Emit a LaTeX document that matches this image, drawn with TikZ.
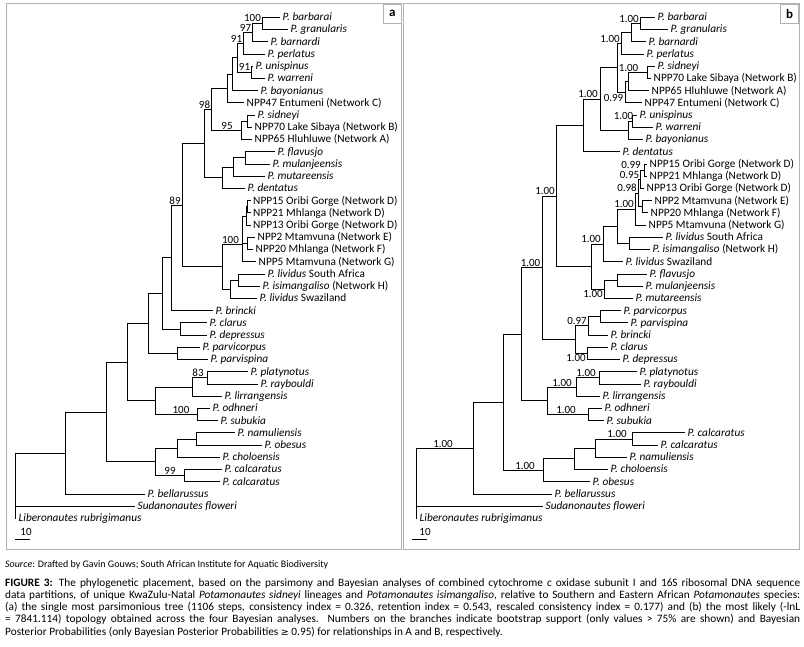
\documentclass[tikz,border=0pt]{standalone}
\usepackage{fontspec}
\setmainfont{Carlito}
\newfontfamily\symfont{DejaVu Sans}
\newcommand{\tipl}[4]{\node[tiplab] (#1) at (#2,#3) {#4};}
\newcommand{\ndc}[3]{\coordinate (#1) at (#2,#3);}
\newcommand{\brn}[2]{\draw[branch] (#1) |- (#2);}
\newcommand{\brt}[2]{\draw[branch] (#1) |- (#2.west);}
\newcommand{\supl}[4]{\node[suplab] (#1) at (#2,#3) {#4};}
\newcommand{\spp}[1]{\textit{P. #1}}
\tikzset{
 branch/.style={line width=0.75pt, black},
 tiplab/.style={anchor=west, inner xsep=2.5pt, inner ysep=0pt, text height=8.5pt, text depth=1.6pt, font=\fontsize{11.3}{12}\selectfont},
 suplab/.style={inner sep=0pt, text height=7.5pt, text depth=0.5pt, font=\fontsize{11}{12}\selectfont},
 frame/.style={draw=gray!60, line width=1pt},
 panlab/.style={draw=gray!60, line width=0.8pt, minimum width=18.5pt, minimum height=19pt, inner sep=0pt, font=\fontsize{13}{14}\selectfont\bfseries},
 caplab/.style={anchor=west, inner sep=0pt, text height=8pt, text depth=2.2pt, font=\fontsize{11.3}{12}\selectfont},
}
\begin{document}
\begin{tikzpicture}[x=1pt,y=-1pt]
\useasboundingbox (0,0) rectangle (804,647);
\fill[white] (0,0) rectangle (804,647);
% frames
\draw[frame] (6,3.5) rectangle (401.5,549);
\draw[frame] (403.5,3.5) rectangle (799,549);
\node[panlab] (pa) at (392.25,13.5) {a};
\node[panlab] (pb) at (789.5,13.5) {b};
% ================= panel a tips
\tipl{a1}{280}{17.3}{\spp{barbarai}}
\tipl{a2}{288}{29.52}{\spp{granularis}}
\tipl{a3}{268}{41.74}{\spp{barnardi}}
\tipl{a4}{265}{53.96}{\spp{perlatus}}
\tipl{a5}{253}{66.18}{\spp{unispinus}}
\tipl{a6}{265}{78.4}{\spp{warreni}}
\tipl{a7}{258}{90.62}{\spp{bayonianus}}
\tipl{a8}{244}{102.84}{NPP47 Entumeni (Network C)}
\tipl{a9}{255}{115.06}{\spp{sidneyi}}
\tipl{a10}{252}{127.28}{NPP70 Lake Sibaya (Network B)}
\tipl{a11}{252}{139.5}{NPP65 Hluhluwe (Network A)}
\tipl{a12}{275}{151.72}{\spp{flavusjo}}
\tipl{a13}{270}{163.94}{\spp{mulanjeensis}}
\tipl{a14}{265}{176.16}{\spp{mutareensis}}
\tipl{a15}{245}{188.38}{\spp{dentatus}}
\tipl{a16}{250.5}{200.6}{NPP15 Oribi Gorge (Network D)}
\tipl{a17}{250.5}{212.82}{NPP21 Mhlanga (Network D)}
\tipl{a18}{250.5}{225.04}{NPP13 Oribi Gorge (Network D)}
\tipl{a19}{255}{237.26}{NPP2 Mtamvuna (Network E)}
\tipl{a20}{253}{249.48}{NPP20 Mhlanga (Network F)}
\tipl{a21}{256}{261.7}{NPP5 Mtamvuna (Network G)}
\tipl{a22}{265}{273.92}{\spp{lividus} South Africa}
\tipl{a23}{260}{286.14}{\spp{isimangaliso} (Network H)}
\tipl{a24}{257}{298.36}{\spp{lividus} Swaziland}
\tipl{a25}{213}{310.58}{\spp{brincki}}
\tipl{a26}{207}{322.8}{\spp{clarus}}
\tipl{a27}{207}{335.02}{\spp{depressus}}
\tipl{a28}{200}{347.24}{\spp{parvicorpus}}
\tipl{a29}{208}{359.46}{\spp{parvispina}}
\tipl{a30}{248}{371.68}{\spp{platynotus}}
\tipl{a31}{258}{383.9}{\spp{raybouldi}}
\tipl{a32}{222}{396.12}{\spp{lirrangensis}}
\tipl{a33}{210}{408.34}{\spp{odhneri}}
\tipl{a34}{218}{420.56}{\spp{subukia}}
\tipl{a35}{235}{432.78}{\spp{namuliensis}}
\tipl{a36}{262}{445}{\spp{obesus}}
\tipl{a37}{220}{457.22}{\spp{choloensis}}
\tipl{a38}{222}{469.44}{\spp{calcaratus}}
\tipl{a39}{220}{481.66}{\spp{calcaratus}}
\tipl{a40}{145}{493.88}{\spp{bellarussus}}
\tipl{a41}{135}{506.1}{\textit{Sudanonautes floweri}}
\tipl{a42}{16}{518.32}{\textit{Liberonautes rubrigimanus}}
% panel a internal nodes
\ndc{ar}{15}{485}
\ndc{aI}{65}{452.9}
\ndc{aA}{106}{411.9}
\ndc{aB}{127}{362.03}
\ndc{aD}{148}{323.36}
\ndc{a162}{162}{293.37}
\ndc{a171}{171}{257.83}
\ndc{a182}{182}{205.08}
\ndc{a204}{204}{143.56}
\ndc{a211}{211}{109.43}
\ndc{a227}{227.5}{88.52}
\ndc{a232}{232.5}{74.2}
\ndc{a237}{237.5}{57.78}
\ndc{a243}{243}{43.27}
\ndc{a252}{252}{32.58}
\ndc{a262}{262}{23.41}
\ndc{a251}{251}{72.29}
\ndc{a242}{241}{130.34}
\ndc{a247}{247.5}{121.17}
\ndc{a222}{222}{177.69}
\ndc{a233}{233}{167}
\ndc{a244}{245}{157.83}
\ndc{a222b}{222.5}{266.6}
\ndc{aN}{242}{244}
\ndc{aN1}{246}{215.88}
\ndc{aN2}{247.5}{206.71}
\ndc{aN3}{247}{243.37}
\ndc{aL2}{230}{289.2}
\ndc{aL1}{238}{280.03}
\ndc{a180}{180}{328.91}
\ndc{a177}{177}{353.35}
\ndc{aE}{155}{400.7}
\ndc{a192}{192}{386.96}
\ndc{a207}{207}{377.79}
\ndc{a197}{197}{414.45}
\ndc{aC}{155.5}{461.8}
\ndc{a178}{177}{448.06}
\ndc{a196}{196.5}{438.89}
\ndc{a184}{184}{475.55}
% panel a branches
\brt{ar}{a42} \brt{ar}{a41} \brn{ar}{aI}
\brn{aI}{aA} \brt{aI}{a40}
\brn{aA}{aB} \brn{aA}{aC}
\brn{aB}{aD} \brn{aB}{aE}
\brn{aD}{a162} \brn{aD}{a177}
\brt{a177}{a28} \brt{a177}{a29}
\brn{a162}{a171} \brn{a162}{a180}
\brt{a180}{a26} \brt{a180}{a27}
\brn{a171}{a182} \brt{a171}{a25}
\brn{a182}{a204} \brn{a182}{a222b}
\brn{a204}{a211} \brn{a204}{a222}
\brn{a211}{a227} \brn{a211}{a242}
\brn{a227}{a232} \brt{a227}{a8}
\brn{a232}{a237} \brt{a232}{a7}
\brn{a237}{a243} \brn{a237}{a251}
\brn{a243}{a252} \brt{a243}{a4}
\brn{a252}{a262} \brt{a252}{a3}
\brt{a262}{a1} \brt{a262}{a2}
\brt{a251}{a5} \brt{a251}{a6}
\brn{a242}{a247} \brt{a242}{a11}
\brt{a247}{a9} \brt{a247}{a10}
\brn{a222}{a233} \brt{a222}{a15}
\brn{a233}{a244} \brt{a233}{a14}
\brt{a244}{a12} \brt{a244}{a13}
\brn{a222b}{aN} \brn{a222b}{aL2}
\brn{aN}{aN1} \brn{aN}{aN3} \brt{aN}{a21}
\brn{aN1}{aN2} \brt{aN1}{a18}
\brt{aN2}{a16} \brt{aN2}{a17}
\brt{aN3}{a19} \brt{aN3}{a20}
\brn{aL2}{aL1} \brt{aL2}{a24}
\brt{aL1}{a22} \brt{aL1}{a23}
\brn{aE}{a192} \brn{aE}{a197}
\brn{a192}{a207} \brt{a192}{a32}
\brt{a207}{a30} \brt{a207}{a31}
\brt{a197}{a33} \brt{a197}{a34}
\brn{aC}{a178} \brn{aC}{a184}
\brn{a178}{a196} \brt{a178}{a37}
\brt{a196}{a35} \brt{a196}{a36}
\brt{a184}{a38} \brt{a184}{a39}
% panel a support values
\supl{t1}{252.5}{18.5}{100}
\supl{t2}{245.5}{28}{97}
\supl{t3}{236.5}{39}{91}
\supl{t4}{244.5}{67.5}{91}
\supl{t5}{204.5}{105}{98}
\supl{t6}{227}{126}{95}
\supl{t7}{175}{200.6}{89}
\supl{t8}{230.5}{239.7}{100}
\supl{t9}{198}{373.3}{83}
\supl{t10}{181}{410}{100}
\supl{t11}{170}{471}{99}
% panel a scale
\supl{sa}{26}{531.5}{10}
\coordinate (sa1) at (15,539); \coordinate (sa2) at (30,539);
\draw[branch] (sa1) -- (sa2);
% ================= panel b tips
\tipl{b1}{655}{17.3}{\spp{barbarai}}
\tipl{b2}{668}{29.52}{\spp{granularis}}
\tipl{b3}{646}{41.74}{\spp{barnardi}}
\tipl{b4}{644}{53.96}{\spp{perlatus}}
\tipl{b5}{655}{66.18}{\spp{sidneyi}}
\tipl{b6}{651}{78.4}{NPP70 Lake Sibaya (Network B)}
\tipl{b7}{649}{90.62}{NPP65 Hluhluwe (Network A)}
\tipl{b8}{642}{102.84}{NPP47 Entumeni (Network C)}
\tipl{b9}{637}{115.06}{\spp{unispinus}}
\tipl{b10}{653}{127.28}{\spp{warreni}}
\tipl{b11}{643}{139.5}{\spp{bayonianus}}
\tipl{b12}{620}{151.72}{\spp{dentatus}}
\tipl{b13}{647}{163.94}{NPP15 Oribi Gorge (Network D)}
\tipl{b14}{647}{176.16}{NPP21 Mhlanga (Network D)}
\tipl{b15}{644}{188.38}{NPP13 Oribi Gorge (Network D)}
\tipl{b16}{652}{200.6}{NPP2 Mtamvuna (Network E)}
\tipl{b17}{648}{212.82}{NPP20 Mhlanga (Network F)}
\tipl{b18}{646}{225.04}{NPP5 Mtamvuna (Network G)}
\tipl{b19}{663}{237.26}{\spp{lividus} South Africa}
\tipl{b20}{650}{249.48}{\spp{isimangaliso} (Network H)}
\tipl{b21}{623}{261.7}{\spp{lividus} Swaziland}
\tipl{b22}{647}{273.92}{\spp{flavusjo}}
\tipl{b23}{643}{286.14}{\spp{mulanjeensis}}
\tipl{b24}{633}{298.36}{\spp{mutareensis}}
\tipl{b25}{621}{310.58}{\spp{parvicorpus}}
\tipl{b26}{628}{322.8}{\spp{parvispina}}
\tipl{b27}{608}{335.02}{\spp{brincki}}
\tipl{b28}{608}{347.24}{\spp{clarus}}
\tipl{b29}{620}{359.46}{\spp{depressus}}
\tipl{b30}{637}{371.68}{\spp{platynotus}}
\tipl{b31}{641}{383.9}{\spp{raybouldi}}
\tipl{b32}{600}{396.12}{\spp{lirrangensis}}
\tipl{b33}{602}{408.34}{\spp{odhneri}}
\tipl{b34}{604}{420.56}{\spp{subukia}}
\tipl{b35}{685}{432.78}{\spp{calcaratus}}
\tipl{b36}{658}{445}{\spp{calcaratus}}
\tipl{b37}{627}{457.22}{\spp{namuliensis}}
\tipl{b38}{608}{469.44}{\spp{choloensis}}
\tipl{b39}{590}{481.66}{\spp{obesus}}
\tipl{b40}{552}{493.88}{\spp{bellarussus}}
\tipl{b41}{543}{506.1}{\textit{Sudanonautes floweri}}
\tipl{b42}{417}{518.32}{\textit{Liberonautes rubrigimanus}}
% panel b internal nodes
\ndc{br}{416}{480}
\ndc{b473}{473}{448.06}
\ndc{b503}{503}{402.23}
\ndc{b521}{521}{334.25}
\ndc{b542}{542}{267.79}
\ndc{b556}{556}{195.98}
\ndc{b583}{583}{125.38}
\ndc{b600}{600}{99.03}
\ndc{b617}{617}{67.71}
\ndc{b621}{621}{43.27}
\ndc{b631}{631}{32.58}
\ndc{b640}{640}{23.41}
\ndc{b626}{625}{92.15}
\ndc{b628}{628.5}{81.46}
\ndc{b647}{647}{72.29}
\ndc{b628b}{628}{130.34}
\ndc{b632}{632}{121.17}
\ndc{b591}{591}{266.57}
\ndc{b603}{603}{243.95}
\ndc{b617b}{617}{226.19}
\ndc{bNPP}{635}{209}
\ndc{b638}{638}{192.97}
\ndc{b640b}{640.5}{179.22}
\ndc{b644}{644}{170.05}
\ndc{b642}{642}{206.71}
\ndc{b629}{629}{243.37}
\ndc{b604}{604}{289.2}
\ndc{b617c}{617}{280.03}
\ndc{b575}{575}{339.6}
\ndc{b588}{588}{325.86}
\ndc{b600b}{600}{316.69}
\ndc{b587}{587}{353.35}
\ndc{b547}{547}{400.7}
\ndc{b576}{576}{386.96}
\ndc{b599}{599}{377.79}
\ndc{b588b}{588}{414.45}
\ndc{b543}{543}{470.2}
\ndc{b574}{574}{458.75}
\ndc{b595}{595}{448.06}
\ndc{b632c}{632}{438.89}
% panel b branches
\brt{br}{b42} \brt{br}{b41} \brn{br}{b473}
\brn{b473}{b503} \brt{b473}{b40}
\brn{b503}{b521} \brn{b503}{b543}
\brn{b521}{b542} \brn{b521}{b547}
\brn{b542}{b556} \brn{b542}{b575}
\brn{b556}{b583} \brn{b556}{b591}
\brn{b583}{b600} \brt{b583}{b12}
\brn{b600}{b617} \brn{b600}{b628b}
\brn{b617}{b621} \brn{b617}{b626}
\brn{b621}{b631} \brt{b621}{b4}
\brn{b631}{b640} \brt{b631}{b3}
\brt{b640}{b1} \brt{b640}{b2}
\brn{b626}{b628} \brt{b626}{b8}
\brn{b628}{b647} \brt{b628}{b7}
\brt{b647}{b5} \brt{b647}{b6}
\brn{b628b}{b632} \brt{b628b}{b11}
\brt{b632}{b9} \brt{b632}{b10}
\brn{b591}{b603} \brn{b591}{b604}
\brn{b603}{b617b} \brt{b603}{b21}
\brn{b617b}{bNPP} \brn{b617b}{b629}
\brn{bNPP}{b638} \brt{bNPP}{b18}
\brn{b638}{b640b} \brn{b638}{b642}
\brn{b640b}{b644} \brt{b640b}{b15}
\brt{b644}{b13} \brt{b644}{b14}
\brt{b642}{b16} \brt{b642}{b17}
\brt{b629}{b19} \brt{b629}{b20}
\brn{b604}{b617c} \brt{b604}{b24}
\brt{b617c}{b22} \brt{b617c}{b23}
\brn{b575}{b588} \brn{b575}{b587}
\brn{b588}{b600b} \brt{b588}{b27}
\brt{b600b}{b25} \brt{b600b}{b26}
\brt{b587}{b28} \brt{b587}{b29}
\brn{b547}{b576} \brn{b547}{b588b}
\brn{b576}{b599} \brt{b576}{b32}
\brt{b599}{b30} \brt{b599}{b31}
\brt{b588b}{b33} \brt{b588b}{b34}
\brn{b543}{b574} \brt{b543}{b39}
\brn{b574}{b595} \brt{b574}{b38}
\brn{b595}{b632c} \brt{b595}{b37}
\brt{b632c}{b35} \brt{b632c}{b36}
% panel b posterior probabilities
\supl{s1}{629}{19}{1.00}
\supl{s2}{610}{39}{1.00}
\supl{s3}{628.5}{68}{1.00}
\supl{s4}{613.5}{98}{0.99}
\supl{s5}{588}{94.5}{1.00}
\supl{s6}{623.5}{116.5}{1.00}
\supl{s7}{631}{164.8}{0.99}
\supl{s8}{629.5}{175}{0.95}
\supl{s9}{627}{188.3}{0.98}
\supl{s10}{624}{204.5}{1.00}
\supl{s11}{591}{239.5}{1.00}
\supl{s12}{545}{191.5}{1.00}
\supl{s13}{530.5}{263.3}{1.00}
\supl{s14}{593}{294.5}{1.00}
\supl{s15}{577}{321.4}{0.97}
\supl{s16}{576}{358.5}{1.00}
\supl{s17}{586}{373.3}{1.00}
\supl{s18}{562}{382.5}{1.00}
\supl{s19}{566}{410}{1.00}
\supl{s20}{617}{434.4}{1.00}
\supl{s21}{443}{443.6}{1.00}
\supl{s22}{525}{465.7}{1.00}
% panel b scale
\supl{sb}{425}{532}{10}
\coordinate (sb1) at (412,539.5); \coordinate (sb2) at (427,539.5);
\draw[branch] (sb1) -- (sb2);
% ================= caption
\node[anchor=west, inner sep=0pt, font=\fontsize{10}{11}\selectfont] (src) at (5,565) {\textit{Source}: Drafted by Gavin Gouws; South African Institute for Aquatic Biodiversity};
\node[caplab] (c1) at (5,584) {\makebox[795pt][s]{\textbf{FIGURE 3:} The phylogenetic placement, based on the parsimony and Bayesian analyses of combined cytochrome \textit{c} oxidase subunit I and 16S ribosomal DNA sequence}};
\node[caplab] (c2) at (5,596) {\makebox[795pt][s]{data partitions, of unique KwaZulu-Natal \textit{Potamonautes sidneyi} lineages and \textit{Potamonautes isimangaliso}, relative to Southern and Eastern African \textit{Potamonautes} species:}};
\node[caplab] (c3) at (5,608) {\makebox[795pt][s]{(a) the single most parsimonious tree (1106 steps, consistency index = 0.326, retention index = 0.543, rescaled consistency index = 0.177) and (b) the most likely (-lnL}};
\node[caplab] (c4) at (5,620) {\makebox[795pt][s]{= 7841.114) topology obtained across the four Bayesian analyses. Numbers on the branches indicate bootstrap support (only values > 75\% are shown) and Bayesian}};
\node[caplab] (c5) at (5,632.5) {Posterior Probabilities (only Bayesian Posterior Probabilities {\symfont\fontsize{9.5}{10}\selectfont ≥} 0.95) for relationships in A and B, respectively.};
\end{tikzpicture}
\end{document}
